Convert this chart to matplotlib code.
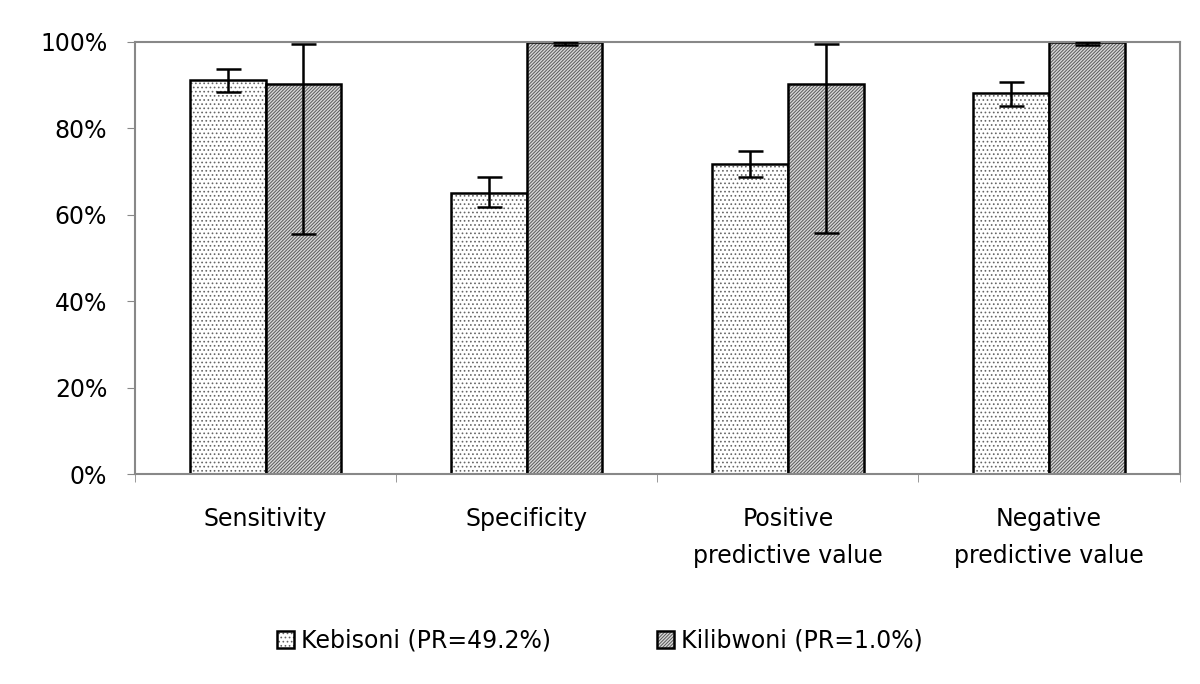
import matplotlib
matplotlib.use("Agg")
import matplotlib.pyplot as plt
import numpy as np

categories = ["Sensitivity", "Specificity", "Positive\npredictive value", "Negative\npredictive value"]
series_names = ["Kebisoni (PR=49.2%)", "Kilibwoni (PR=1.0%)"]
kebisoni = [91.3, 65.0, 71.8, 88.3]
kebisoni_lo = [88.4, 61.9, 68.7, 85.1]
kebisoni_hi = [93.8, 68.7, 74.8, 90.8]
kilibwoni = [90.3, 100.0, 90.3, 100.0]
kilibwoni_lo = [55.6, 99.4, 55.8, 99.4]
kilibwoni_hi = [99.5, 100.0, 99.5, 100.0]
yticks = [0, 20, 40, 60, 80, 100]

plt.rcParams['font.family'] = ['DejaVu Sans']
plt.rcParams['hatch.linewidth'] = 0.7

fig = plt.figure(figsize=(12, 6.84), dpi=100)
ax = fig.add_axes([0.1125, 0.307, 0.8705, 0.6316])

x = np.arange(len(categories))
w = 0.29
k = np.array(kebisoni); kl = np.array(kebisoni_lo); kh = np.array(kebisoni_hi)
l = np.array(kilibwoni); ll = np.array(kilibwoni_lo); lh = np.array(kilibwoni_hi)

b1 = ax.bar(x - w/2, k, w, color='white', edgecolor='black', linewidth=1.8,
            hatch='....', label=series_names[0], zorder=2)
b2 = ax.bar(x + w/2, l, w, color='#d8d8d8', edgecolor='black', linewidth=1.8,
            hatch='//////////', label=series_names[1], zorder=2)
for b in b1:
    b._hatch_color = (0.4, 0.4, 0.4, 1)
for b in b2:
    b._hatch_color = (0.35, 0.35, 0.35, 1)

ax.errorbar(x - w/2, k, yerr=[k - kl, kh - k], fmt='none', ecolor='black',
            elinewidth=1.8, capsize=9, capthick=1.8, zorder=3)
ax.errorbar(x + w/2, l, yerr=[l - ll, lh - l], fmt='none', ecolor='black',
            elinewidth=1.8, capsize=9, capthick=1.8, zorder=3)

ax.set_xlim(-0.5, len(categories) - 0.5)
ax.set_ylim(0, 100)
ax.set_yticks(yticks)
ax.set_yticklabels([f"{v}%" for v in yticks], fontsize=17)
ax.set_xticks(x)
ax.set_xticklabels(categories, fontsize=17, linespacing=1.65)
ax.tick_params(axis='x', length=0, pad=24)
ax.set_xticks(np.arange(len(categories) + 1) - 0.5, minor=True)
ax.tick_params(axis='x', which='minor', length=6, color='#888888', direction='out')
ax.tick_params(axis='y', length=6, color='#888888', direction='out', pad=14)
for sp in ax.spines.values():
    sp.set_color('#888888')
    sp.set_linewidth(1.5)

leg = fig.legend(handles=[b1, b2], labels=series_names, loc='center',
                 bbox_to_anchor=(0.5, 0.063), ncol=2, frameon=False, fontsize=17,
                 handlelength=0.7, handleheight=0.7, columnspacing=4.5, handletextpad=0.3)

fig.savefig("out.png", dpi=100)
